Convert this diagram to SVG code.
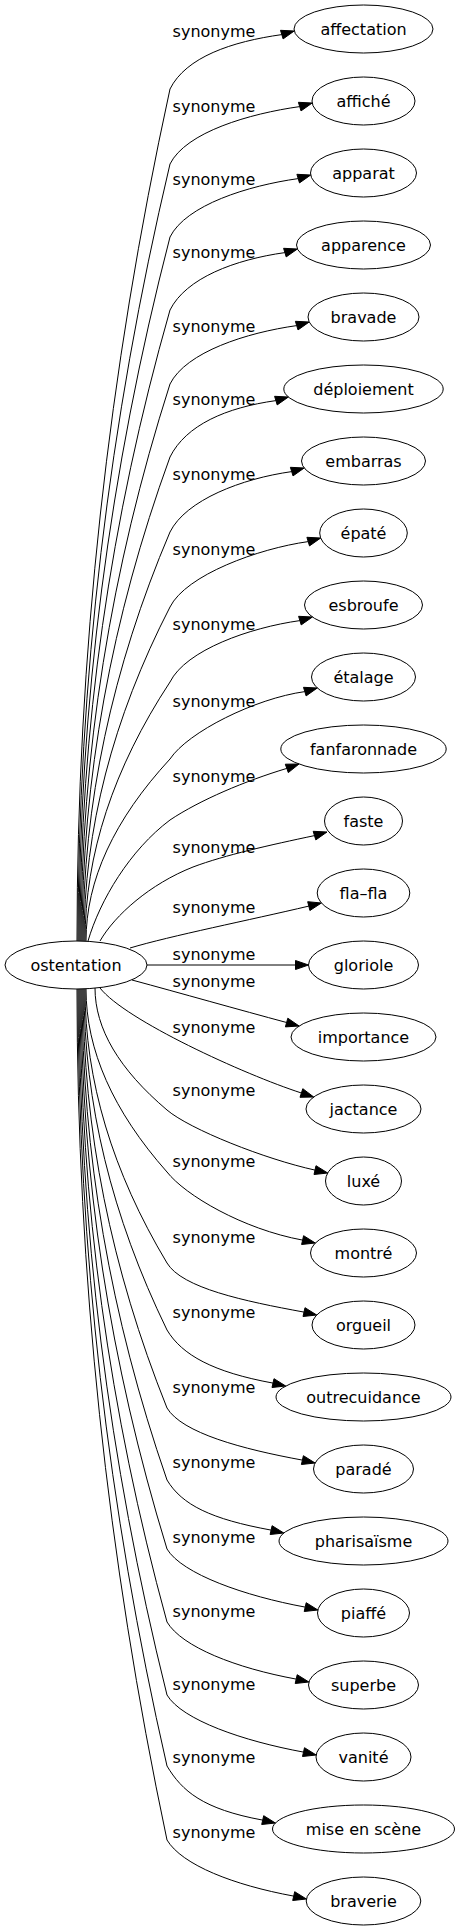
<svg xmlns="http://www.w3.org/2000/svg" width="460" height="1931" viewBox="0 0 460 1931">
<style>
text{font-family:"DejaVu Sans","Liberation Sans",sans-serif;font-size:16px;fill:#000}
.node ellipse{fill:none;stroke:#000;stroke-width:1}
.node text{text-anchor:middle}
.edge path{fill:none;stroke:#000;stroke-width:1}
.edge polygon{fill:#000;stroke:#000;stroke-width:1}
.edge text{text-anchor:middle}
</style>
<rect x="0" y="0" width="460" height="1931" fill="#fff"/>
<g id="connectors" class="edge">
<path d="M77,941 C77,657 108,373 170,89 C186,57 231.8,41.6 281.8,34.6"/><polygon points="294.2,31 283.1,38.9 280.5,30.3"/><text x="214" y="37">synonyme</text>
<path d="M78,941 C78,682 108.7,423 170,164 C186,132 249.7,113.6 299.7,106.6"/><polygon points="312.2,103 301,110.9 298.4,102.3"/><text x="214" y="112">synonyme</text>
<path d="M79,941 C79,706.3 109.3,471.7 170,237 C186,205 248.2,185.6 298.2,178.6"/><polygon points="310.7,175 299.5,182.9 296.9,174.3"/><text x="214" y="185">synonyme</text>
<path d="M80,941 C80,730.7 110,520.3 170,310 C186,278 234.9,259.6 284.9,252.6"/><polygon points="297.4,249 286.2,256.9 283.6,248.3"/><text x="214" y="258">synonyme</text>
<path d="M81,941 C81,755.3 110.7,569.7 170,384 C186,352 246.7,332.6 296.7,325.6"/><polygon points="309.2,322 298,329.9 295.4,321.3"/><text x="214" y="332">synonyme</text>
<path d="M82,941 C82,779.7 111.3,618.3 170,457 C186,425 225.9,407.6 275.9,400.6"/><polygon points="288.4,397 277.2,404.9 274.6,396.3"/><text x="214" y="405">synonyme</text>
<path d="M83,941 C83,804.7 112,668.3 170,532 C186,500 241.7,478.6 291.7,471.6"/><polygon points="304.2,468 293,475.9 290.4,467.3"/><text x="214" y="480">synonyme</text>
<path d="M84,941 C84,829.7 112.7,718.3 170,607 C186,575 258.2,548.6 308.2,541.6"/><polygon points="320.7,538 309.5,545.9 306.9,537.3"/><text x="214" y="555">synonyme</text>
<path d="M85,941 C85,854.7 113.3,768.3 170,682 C186,650 249.9,627.6 299.9,620.6"/><polygon points="312.4,617 301.2,624.9 298.6,616.3"/><text x="214" y="630">synonyme</text>
<path d="M86,941 C86,880.3 114,819.7 170,759 C188,732 254.8,698.6 304.8,691.6"/><polygon points="317.3,688 306.1,695.9 303.5,687.3"/><text x="214" y="707">synonyme</text>
<path d="M88,941 C100,900 130,850 170,820 C200,800 245,781 286.8,768.4"/><polygon points="299,764 288.3,772.6 285.3,764.2"/><text x="214" y="782">synonyme</text>
<path d="M100,941 C115,915 150,884 193,867 C225,855 270,845 314.5,835.6"/><polygon points="327,832 315.8,839.9 313.2,831.3"/><text x="214" y="853">synonyme</text>
<path d="M130,948 C170,936 250,920 308.8,906.1"/><polygon points="321.4,903 309.9,910.5 307.7,901.7"/><text x="214" y="913">synonyme</text>
<path d="M147,965 L295.5,965"/><polygon points="308.5,965 295.5,969.5 295.5,960.5"/><text x="214" y="960">synonyme</text>
<path d="M132,980 C180,993 240,1010 286.6,1022.5"/><polygon points="299.1,1026 287.8,1018.2 285.4,1026.9"/><text x="214" y="987">synonyme</text>
<path d="M100,988 C125,1020 244,1074.4 301.4,1093"/><polygon points="313.7,1097 302.8,1088.7 300,1097.3"/><text x="214" y="1033">synonyme</text>
<path d="M95,988 C95,1028.7 119,1069.3 167,1110 C189.9,1129.4 265,1159.1 315,1170.1"/><polygon points="327.7,1173 316,1165.7 314,1174.5"/><text x="214" y="1096">synonyme</text>
<path d="M86,989 C86,1050 113,1111 167,1172 C185,1195 242.6,1229.1 302.6,1240.1"/><polygon points="315.3,1243 303.6,1235.7 301.6,1244.5"/><text x="214" y="1167">synonyme</text>
<path d="M85,989 C85,1080.3 112.3,1171.7 167,1263 C182,1288 244,1301.1 304,1312.1"/><polygon points="316.7,1315 305,1307.7 303,1316.5"/><text x="214" y="1243">synonyme</text>
<path d="M84,989 C84,1102.7 111.7,1216.3 167,1330 C182,1355 213,1372.1 273,1383.1"/><polygon points="285.7,1386 274,1378.7 272,1387.5"/><text x="214" y="1318">synonyme</text>
<path d="M83,989 C83,1128.7 111,1268.3 167,1408 C182,1433 242.4,1449.1 302.4,1460.1"/><polygon points="315.1,1463 303.4,1455.7 301.4,1464.5"/><text x="214" y="1393">synonyme</text>
<path d="M82,989 C82,1152.7 110.3,1316.3 167,1480 C182,1505 211.1,1519.1 271.1,1530.1"/><polygon points="283.8,1533 272.1,1525.7 270.1,1534.5"/><text x="214" y="1468">synonyme</text>
<path d="M81,989 C81,1175.7 109.7,1362.3 167,1549 C182,1574 245.2,1596.1 305.2,1607.1"/><polygon points="317.9,1610 306.2,1602.7 304.2,1611.5"/><text x="214" y="1543">synonyme</text>
<path d="M80,989 C80,1200 109,1411 167,1622 C182,1647 236.2,1668.1 296.2,1679.1"/><polygon points="308.9,1682 297.2,1674.7 295.2,1683.5"/><text x="214" y="1617">synonyme</text>
<path d="M79,989 C79,1224.3 108.3,1459.7 167,1695 C182,1720 243.5,1741.1 303.5,1752.1"/><polygon points="316.2,1755 304.5,1747.7 302.5,1756.5"/><text x="214" y="1690">synonyme</text>
<path d="M78,989 C78,1248 107.7,1507 167,1766 C182,1791 202.7,1809.1 262.7,1820.1"/><polygon points="275.4,1823 263.7,1815.7 261.7,1824.5"/><text x="214" y="1763">synonyme</text>
<path d="M77,989 C77,1272.3 107,1556.3 167,1840 C182,1865 233.7,1885.1 293.7,1896.1"/><polygon points="306.4,1899 294.7,1891.7 292.7,1900.5"/><text x="214" y="1838">synonyme</text>
</g>
<g id="node-ostentation" class="node"><ellipse cx="76" cy="965" rx="71" ry="24"/><text x="76" y="970.5">ostentation</text></g>
<g id="node-affectation" class="node"><ellipse cx="363.5" cy="29" rx="69.5" ry="24"/><text x="363.5" y="34.5">affectation</text></g>
<g id="node-affiche" class="node"><ellipse cx="363.5" cy="101" rx="51.5" ry="24"/><text x="363.5" y="106.5">affiché</text></g>
<g id="node-apparat" class="node"><ellipse cx="363.5" cy="173" rx="53" ry="24"/><text x="363.5" y="178.5">apparat</text></g>
<g id="node-apparence" class="node"><ellipse cx="363.5" cy="245" rx="67" ry="24"/><text x="363.5" y="250.5">apparence</text></g>
<g id="node-bravade" class="node"><ellipse cx="363.5" cy="317" rx="55.5" ry="24"/><text x="363.5" y="322.5">bravade</text></g>
<g id="node-deploiement" class="node"><ellipse cx="363.5" cy="389" rx="79.7" ry="24"/><text x="363.5" y="394.5">déploiement</text></g>
<g id="node-embarras" class="node"><ellipse cx="363.5" cy="461" rx="62" ry="24"/><text x="363.5" y="466.5">embarras</text></g>
<g id="node-epate" class="node"><ellipse cx="363.5" cy="533" rx="43.8" ry="24"/><text x="363.5" y="538.5">épaté</text></g>
<g id="node-esbroufe" class="node"><ellipse cx="363.5" cy="605" rx="59" ry="24"/><text x="363.5" y="610.5">esbroufe</text></g>
<g id="node-etalage" class="node"><ellipse cx="363.5" cy="677" rx="52" ry="24"/><text x="363.5" y="682.5">étalage</text></g>
<g id="node-fanfaronnade" class="node"><ellipse cx="363.5" cy="749" rx="82.7" ry="24"/><text x="363.5" y="754.5">fanfaronnade</text></g>
<g id="node-faste" class="node"><ellipse cx="363.5" cy="821" rx="39" ry="24"/><text x="363.5" y="826.5">faste</text></g>
<g id="node-fla-fla" class="node"><ellipse cx="363.5" cy="893" rx="46.3" ry="24"/><text x="363.5" y="898.5">fla–fla</text></g>
<g id="node-gloriole" class="node"><ellipse cx="363.5" cy="965" rx="55" ry="24"/><text x="363.5" y="970.5">gloriole</text></g>
<g id="node-importance" class="node"><ellipse cx="363.5" cy="1037" rx="72.5" ry="24"/><text x="363.5" y="1042.5">importance</text></g>
<g id="node-jactance" class="node"><ellipse cx="363.5" cy="1109" rx="57.5" ry="24"/><text x="363.5" y="1114.5">jactance</text></g>
<g id="node-luxe" class="node"><ellipse cx="363.5" cy="1181" rx="38" ry="24"/><text x="363.5" y="1186.5">luxé</text></g>
<g id="node-montre" class="node"><ellipse cx="363.5" cy="1253" rx="53" ry="24"/><text x="363.5" y="1258.5">montré</text></g>
<g id="node-orgueil" class="node"><ellipse cx="363.5" cy="1325" rx="51.5" ry="24"/><text x="363.5" y="1330.5">orgueil</text></g>
<g id="node-outrecuidance" class="node"><ellipse cx="363.5" cy="1397" rx="87.5" ry="24"/><text x="363.5" y="1402.5">outrecuidance</text></g>
<g id="node-parade" class="node"><ellipse cx="363.5" cy="1469" rx="50" ry="24"/><text x="363.5" y="1474.5">paradé</text></g>
<g id="node-pharisaisme" class="node"><ellipse cx="363.5" cy="1541" rx="84.5" ry="24"/><text x="363.5" y="1546.5">pharisaïsme</text></g>
<g id="node-piaffe" class="node"><ellipse cx="363.5" cy="1613" rx="46" ry="24"/><text x="363.5" y="1618.5">piaffé</text></g>
<g id="node-superbe" class="node"><ellipse cx="363.5" cy="1685" rx="55" ry="24"/><text x="363.5" y="1690.5">superbe</text></g>
<g id="node-vanite" class="node"><ellipse cx="363.5" cy="1757" rx="47.5" ry="24"/><text x="363.5" y="1762.5">vanité</text></g>
<g id="node-mise-en-scene" class="node"><ellipse cx="363.5" cy="1829" rx="91" ry="24"/><text x="363.5" y="1834.5">mise en scène</text></g>
<g id="node-braverie" class="node"><ellipse cx="363.5" cy="1901" rx="57.3" ry="24"/><text x="363.5" y="1906.5">braverie</text></g>
</svg>
